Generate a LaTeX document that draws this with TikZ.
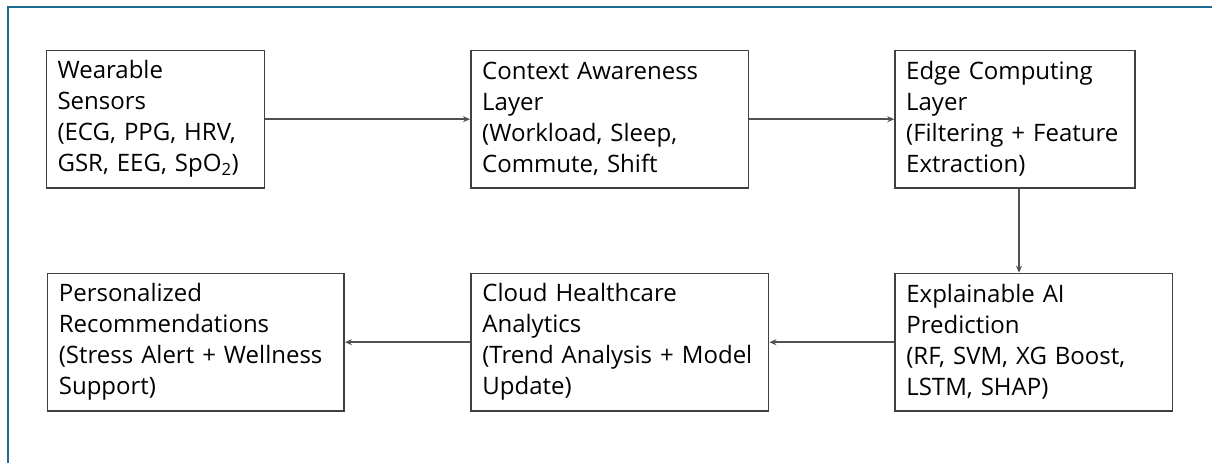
\documentclass[tikz,border=0pt]{standalone}
\usepackage{fontspec}
\setmainfont{Open Sans}
\usetikzlibrary{arrows.meta}
\definecolor{framecol}{HTML}{1F6A93}
\definecolor{boxcol}{HTML}{404040}
\definecolor{arrcol}{HTML}{505050}
\tikzset{
  stage/.style={draw=boxcol, line width=1.7pt, anchor=north west, inner xsep=11pt, inner ysep=0pt,
    align=left, font=\fontsize{24}{31}\selectfont, text=black},
  arr/.style={draw=arrcol, line width=1.5pt, -{Stealth[length=7pt,width=6pt]}},
}
\begin{document}
\begin{tikzpicture}[x=1pt,y=-1pt]
\useasboundingbox (0,0) rectangle (1212,463);
\draw[framecol, line width=2pt] (7.5,463) -- (7.5,6.7) -- (1212,6.7);
\node[stage, minimum width=218pt, minimum height=137.3pt, text width=196pt] (b1) at (45.7,49.7)
  {Wearable\\Sensors\\(ECG, PPG, HRV,\\GSR, EEG, SpO\textsubscript{2})};
\node[stage, minimum width=277.7pt, minimum height=137.3pt, text width=255pt] (b2) at (470,49.7)
  {Context Awareness\\Layer\\(Workload, Sleep,\\Commute, Shift};
\node[stage, minimum width=240pt, minimum height=137.3pt, text width=218pt] (b3) at (894.3,49.7)
  {Edge Computing\\Layer\\(Filtering + Feature\\Extraction)};
\node[stage, minimum width=296.6pt, minimum height=137.3pt, text width=274pt] (b4) at (46.7,272.7)
  {Personalized\\Recommendations\\(Stress Alert + Wellness\\Support)};
\node[stage, minimum width=297.4pt, minimum height=137.3pt, text width=275pt] (b5) at (470.3,272.7)
  {Cloud Healthcare\\Analytics\\(Trend Analysis + Model\\Update)};
\node[stage, minimum width=277.4pt, minimum height=137.3pt, text width=255pt] (b6) at (894.3,272.7)
  {Explainable AI\\Prediction\\(RF, SVM, XG Boost,\\LSTM, SHAP)};
\coordinate (vx) at (1019,0);
\draw[arr] (b1) -- (b2);
\draw[arr] (b2) -- (b3);
\draw[arr] (b3.south -| vx) -- (b6.north -| vx);
\draw[arr] (b6) -- (b5);
\draw[arr] (b5) -- (b4);
\end{tikzpicture}
\end{document}
